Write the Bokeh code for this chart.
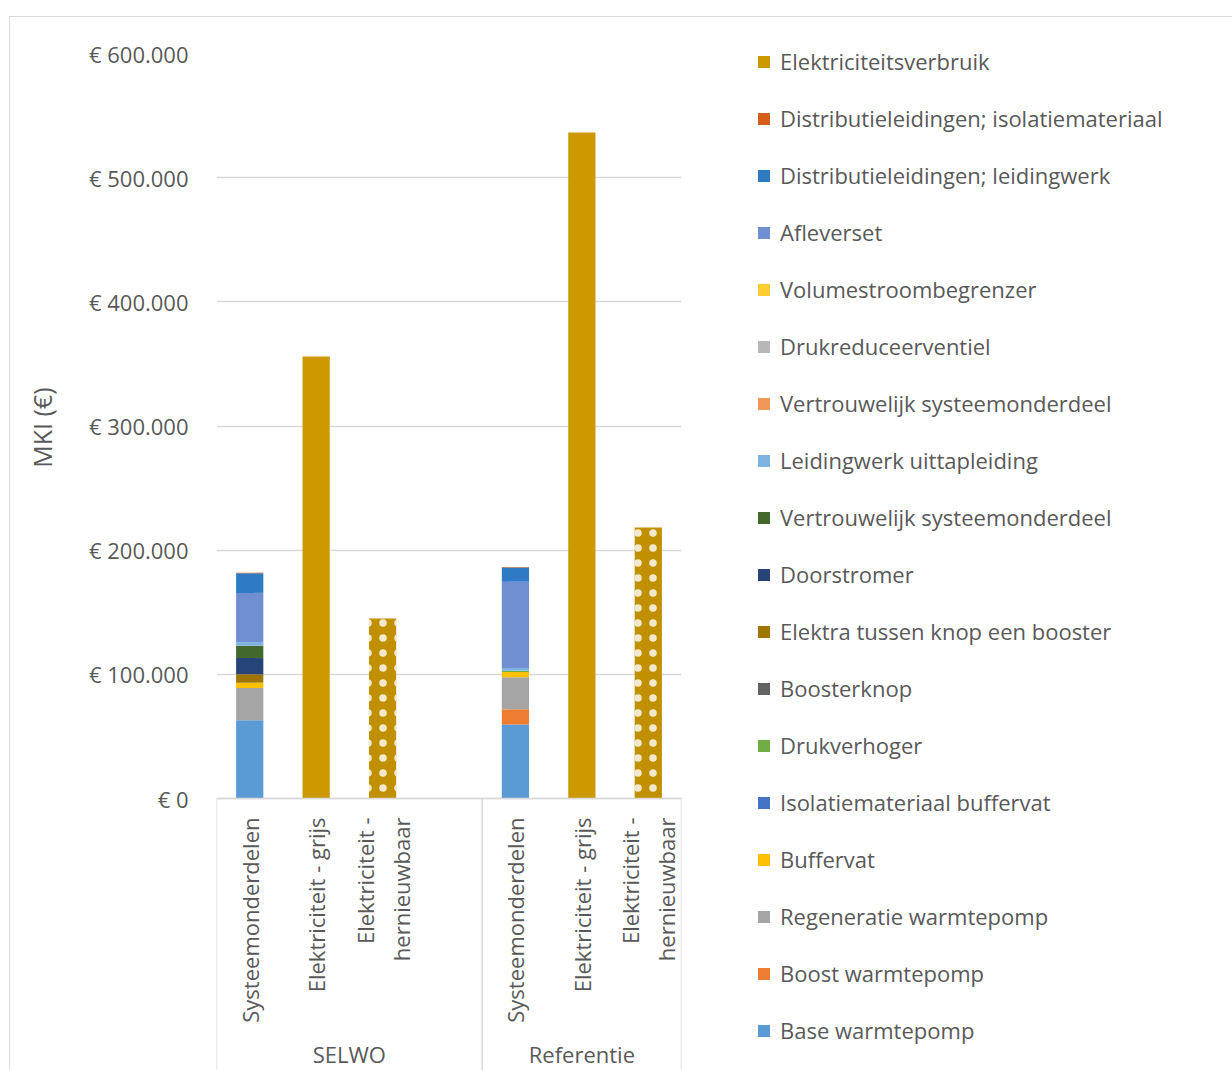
import math
from bokeh.plotting import figure
from bokeh.models import (FactorRange, ColumnDataSource, FixedTicker, Legend,
                          LegendItem, Range1d, Title)
from bokeh.embed import file_html
from bokeh.resources import INLINE
from bokeh.core.properties import value

# ---------------- data ----------------
groups = ["SELWO", "Referentie"]
selwo_cats = ["Systeemonderdelen", "Elektriciteit - grijs", "Elektriciteit -\nhernieuwbaar", " "]
ref_cats = ["Systeemonderdelen", "Elektriciteit - grijs", "Elektriciteit -\nhernieuwbaar"]

# stacked series, bottom -> top
series_names = [
    "Base warmtepomp",
    "Boost warmtepomp",
    "Regeneratie warmtepomp",
    "Buffervat",
    "Isolatiemateriaal buffervat",
    "Drukverhoger",
    "Boosterknop",
    "Elektra tussen knop een booster",
    "Doorstromer",
    "Vertrouwelijk systeemonderdeel",
    "Leidingwerk uittapleiding",
    "Vertrouwelijk systeemonderdeel",
    "Drukreduceerventiel",
    "Volumestroombegrenzer",
    "Afleverset",
    "Distributieleidingen; leidingwerk",
    "Distributieleidingen; isolatiemateriaal",
]
series_colors = [
    "#5B9BD5", "#ED7D31", "#A5A5A5", "#FFC000", "#4472C4", "#70AD47",
    "#636363", "#9E7500", "#264478", "#43682B", "#7EB3E0", "#F1975A",
    "#B7B7B7", "#FFCD33", "#6F8FD0", "#2E7BC4", "#D35F19",
]
selwo_parts = [63000, 0, 26000, 4300, 0, 0, 0, 6700, 13100, 9900, 2900, 0, 0, 0, 39700, 15800, 500]
ref_parts = [59500, 12300, 25800, 4300, 0, 900, 0, 0, 0, 0, 2400, 0, 0, 0, 69300, 11500, 500]

elec_name = "Elektriciteitsverbruik"
elec_color = "#CC9A00"
elec_grijs = [356000, 536400]
elec_hernieuwbaar = [145000, 218300]

y_ticks = [0, 100000, 200000, 300000, 400000, 500000, 600000]
y_tick_labels = ["€ 0", "€ 100.000", "€ 200.000", "€ 300.000", "€ 400.000", "€ 500.000", "€ 600.000"]
y_title = "MKI (€)"

# ---------------- figure ----------------
factors = [("SELWO", c) for c in selwo_cats] + [("Referentie", c) for c in ref_cats]
x_range = FactorRange(*factors, range_padding=0, group_padding=0, factor_padding=0)

frame_h = 1017
px_above = 745
y_max = 600000
y_min = -y_max * (frame_h - px_above) / px_above

TEXT = "#595959"
GRID = "#D9D9D9"
FONT = "Open Sans"

box_css = ("linear-gradient(#D9D9D9, #D9D9D9) 9px 16px / 1223px 1px no-repeat, "
           "linear-gradient(#D9D9D9, #D9D9D9) 9px 16px / 1px 1054px no-repeat, #FFFFFF")

p = figure(x_range=x_range, y_range=Range1d(y_min, y_max),
           frame_width=465, frame_height=frame_h,
           min_border_left=215, min_border_top=53, min_border_bottom=0, min_border_right=552,
           output_backend="svg", toolbar_location=None,
           styles={"background": box_css})
p.outline_line_color = None
p.background_fill_color = "white"
p.border_fill_alpha = 0

# stacked component bars
keys = [f"s{i}" for i in range(len(series_names))]
src = {"x": [("SELWO", "Systeemonderdelen"), ("Referentie", "Systeemonderdelen")]}
for k, a, b in zip(keys, selwo_parts, ref_parts):
    src[k] = [a, b]
stack_rs = p.vbar_stack(keys, x="x", width=0.41, fill_color=series_colors,
                        line_color=None, source=ColumnDataSource(src))

# electricity bars
r_grijs = p.vbar(x=[("SELWO", "Elektriciteit - grijs"), ("Referentie", "Elektriciteit - grijs")],
                 top=elec_grijs, width=0.41, fill_color=elec_color, line_color=None)
r_hern = p.vbar(x=[("SELWO", "Elektriciteit -\nhernieuwbaar"), ("Referentie", "Elektriciteit -\nhernieuwbaar")],
                top=elec_hernieuwbaar, width=0.41, fill_color="#C09000", line_color=None,
                hatch_pattern="dot", hatch_color="white", hatch_scale=15,
                hatch_weight=0.5, hatch_alpha=0.8)

# category separators below the axis
sep_x = [("SELWO", "Systeemonderdelen", -0.5), ("Referentie", "Systeemonderdelen", -0.5),
         ("Referentie", "Elektriciteit -\nhernieuwbaar", 0.5)]
p.segment(x0=sep_x, y0=[0] * 3, x1=sep_x, y1=[y_min] * 3, line_color=GRID, line_width=1.5)

# y axis
yax = p.yaxis[0]
yax.ticker = FixedTicker(ticks=y_ticks)
yax.major_label_overrides = {t: l for t, l in zip(y_ticks, y_tick_labels)}
yax.axis_line_color = None
yax.major_tick_line_color = None
yax.minor_tick_line_color = None
yax.major_label_standoff = 22
yax.major_label_text_font = FONT
yax.major_label_text_font_size = "22px"
yax.major_label_text_color = TEXT

# y axis title, centred on the 0 .. 600.000 part of the axis
p.add_layout(Title(text=y_title, align="right", offset=334, vertical_align="top",
                   standoff=49, text_font=FONT, text_font_size="25px",
                   text_font_style="normal", text_color=TEXT), "left")

p.ygrid.ticker = FixedTicker(ticks=y_ticks)
p.ygrid.grid_line_color = GRID
p.ygrid.grid_line_width = 1.5
p.xgrid.grid_line_color = None

# x axis at zero
xax = p.xaxis[0]
xax.fixed_location = 0
xax.axis_line_color = GRID
xax.axis_line_width = 1.5
xax.major_tick_line_color = None
xax.minor_tick_line_color = None
xax.major_label_orientation = math.pi / 2
xax.major_label_standoff = 13
xax.major_label_text_font = FONT
xax.major_label_text_font_size = "22px"
xax.major_label_text_color = TEXT
xax.group_text_font = FONT
xax.group_text_font_size = "22px"
xax.group_text_color = TEXT
xax.group_text_font_style = "normal"
xax.separator_line_color = None

# legend (top entry = top of stack)
items = [LegendItem(label=elec_name, renderers=[r_grijs])]
for name, r in reversed(list(zip(series_names, stack_rs))):
    items.append(LegendItem(label=name, renderers=[r]))
legend = Legend(items=items, location=(75, 25), margin=0, padding=0,
                border_line_color=None, background_fill_alpha=0,
                glyph_width=15, glyph_height=15, label_height=20,
                label_standoff=9, spacing=27,
                label_text_font=FONT, label_text_font_size="22px",
                label_text_color=TEXT)
p.add_layout(legend, "right")

open("out.html", "w").write(file_html(p, INLINE))
